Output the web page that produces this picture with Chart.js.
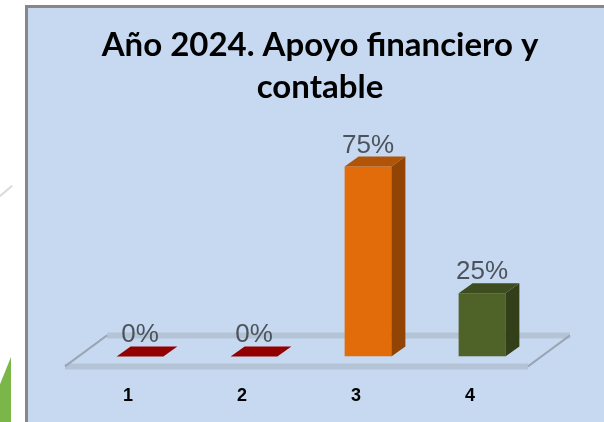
<!DOCTYPE html>
<html>
<head>
<meta charset="utf-8">
<script src="https://cdn.jsdelivr.net/npm/chart.js@4.4.1/dist/chart.umd.min.js"></script>
<style>
  html, body { margin: 0; padding: 0; background: #fff; overflow: hidden; width: 604px; height: 422px; }
  #frame { position: absolute; left: 25px; top: 5px; width: 700px; height: 500px; border: 3px solid #878787; background: #c6d9f1; overflow: hidden; }
  #myChart { position: absolute; left: 0; top: 0; }
  .leaf { position: absolute; left: 0; top: 357px; width: 11px; height: 65px; background: #7ab648; clip-path: polygon(0 42%, 100% 0, 100% 100%, 0 100%); }
  .stroke { position: absolute; left: -2px; top: 190px; width: 16px; height: 2px; background: #dadada; transform: rotate(-40deg); }
</style>
</head>
<body>
<div class="stroke"></div>
<div class="leaf"></div>
<div id="frame">
  <canvas id="myChart" width="576" height="430"></canvas>
</div>
<script>
const TITLE_LINES = ['Año 2024. Apoyo financiero y', 'contable'];
const categories = ['1', '2', '3', '4'];
const values = [0, 0, 75, 25];

const CONFIG_FRONT_COLOR = ['#a00000', '#a00000', '#e36c0a', '#4f6228'];
const CONFIG_SIDE_COLOR = ['#6e0000', '#6e0000', '#924405', '#333f19'];
const CONFIG_TOP_COLOR = ['#930000', '#930000', '#b25407', '#3e4d1f'];

// depth of the fake 3d boxes
const DX = 14;
const DY = 10;

function drawPoly(ctx, pts, color) {
    ctx.beginPath();
    ctx.moveTo(pts[0][0], pts[0][1]);
    for (let k = 1; k < pts.length; k++) ctx.lineTo(pts[k][0], pts[k][1]);
    ctx.closePath();
    ctx.fillStyle = color;
    ctx.fill();
}

function drawLine(ctx, x1, y1, x2, y2) {
    ctx.beginPath();
    ctx.moveTo(x1, y1);
    ctx.lineTo(x2, y2);
    ctx.stroke();
}

const box3dPlugin = {
    id: 'box3d',
    beforeDatasetsDraw(chart) {
        const { ctx, chartArea, scales } = chart;
        const base = scales.y.getPixelForValue(0);
        // floor under the bars
        let fl = chartArea.left - 18;
        let fr = chartArea.right - 11;
        let fy = base + 10;
        let by = base - 21;
        let fdx = 42;
        ctx.save();
        ctx.strokeStyle = '#b5c3d6';
        ctx.lineWidth = 6;
        drawLine(ctx, fl, fy, fr, fy);
        drawLine(ctx, fl + fdx, by, fr + fdx, by);
        ctx.strokeStyle = '#9ba5b3';
        ctx.lineWidth = 2;
        drawLine(ctx, fl, fy, fl + fdx, by);
        drawLine(ctx, fr, fy, fr + fdx, by);
        ctx.restore();
    },
    afterDatasetsDraw(chart) {
        const { ctx } = chart;
        const meta = chart.getDatasetMeta(0);
        ctx.save();
        meta.data.forEach((bar, i) => {
            const { x, y, base, width } = bar.getProps(['x', 'y', 'base', 'width'], true);
            const l = x - width / 2;
            const r = x + width / 2;
            if (base - y > 0.5) {
                drawPoly(ctx, [[r, y], [r + DX, y - DY], [r + DX, base - DY], [r, base]], CONFIG_SIDE_COLOR[i]);
            }
            drawPoly(ctx, [[l, y], [r, y], [r + DX, y - DY], [l + DX, y - DY]], CONFIG_TOP_COLOR[i]);

            ctx.font = '26px "Liberation Sans"';
            ctx.fillStyle = '#4d535c';
            ctx.textAlign = 'center';
            ctx.textBaseline = 'alphabetic';
            ctx.fillText(values[i] + '%', x, y - DY - 4);
        });
        ctx.restore();
    }
};

const ctx = document.getElementById('myChart');

new Chart(ctx, {
    type: 'bar',
    data: {
        labels: categories,
        datasets: [{
            data: values,
            backgroundColor: CONFIG_FRONT_COLOR,
            borderWidth: 0,
            categoryPercentage: 1,
            barPercentage: 0.41
        }]
    },
    options: {
        responsive: false,
        animation: false,
        layout: { padding: { left: 55, right: 47, top: 0, bottom: 2 } },
        plugins: {
            legend: { display: false },
            tooltip: { enabled: false },
            title: {
                display: true,
                text: TITLE_LINES,
                color: '#000',
                font: { family: 'Lato', size: 33, weight: 'bold', lineHeight: 1.273 },
                padding: { top: 16, bottom: 8 }
            }
        },
        scales: {
            x: {
                grid: { display: false, drawTicks: false },
                border: { display: false },
                ticks: {
                    color: '#000',
                    padding: 29,
                    labelOffset: -12,
                    font: { family: 'Liberation Sans', size: 18, weight: 'bold', lineHeight: 1.2 }
                }
            },
            y: {
                position: 'right',
                min: 0,
                max: 95,
                grid: { display: false, drawTicks: false },
                border: { display: false },
                ticks: { display: false },
                afterFit(scale) { scale.width = 18; }
            }
        }
    },
    plugins: [box3dPlugin]
});
</script>
</body>
</html>
